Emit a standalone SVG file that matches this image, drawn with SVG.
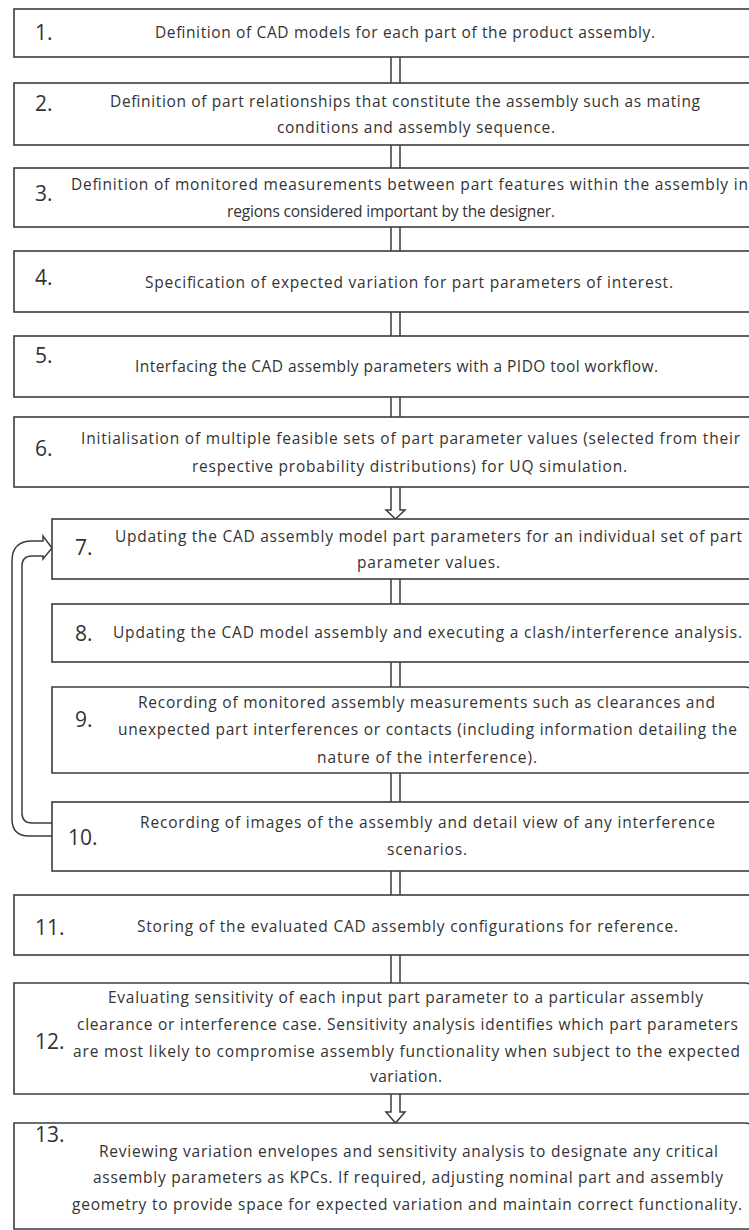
<svg xmlns="http://www.w3.org/2000/svg" width="749" height="1230" viewBox="0 0 749 1230">
<style>
.box{fill:#fff;stroke:#3c3c3c;stroke-width:1.6}
.t{font-family:"Open Sans","Liberation Sans",sans-serif;font-size:15.5px;fill:#333}
.n{font-family:"Open Sans","Liberation Sans",sans-serif;font-size:21px;fill:#333}
.c{fill:none;stroke:#3c3c3c;stroke-width:1.5}
</style>
<rect width="749" height="1230" fill="#fff"/>
<g id="connectors">
<path class="c" d="M391,57V83M400,57V83"/>
<path class="c" d="M391,145V168M400,145V168"/>
<path class="c" d="M391,227V251M400,227V251"/>
<path class="c" d="M391,312V336M400,312V336"/>
<path class="c" d="M391,397V417M400,397V417"/>
<path class="c" d="M391,487V510H386L395.5,519L405,510H400V487"/>
<path class="c" d="M391,579V604M400,579V604"/>
<path class="c" d="M391,662V687M400,662V687"/>
<path class="c" d="M391,773V802M400,773V802"/>
<path class="c" d="M391,871V895M400,871V895"/>
<path class="c" d="M391,955V983M400,955V983"/>
<path class="c" d="M391,1094V1112H386L395.5,1123L405,1112H400V1094"/>
<path class="c" d="M52,836H29Q12,836 12,819V561Q12,541 32,541H43V536L52,548L43,559V556H32Q22,556 22,566V813Q22,823 32,823H52"/>
</g>
<g id="n1"><rect class="box" x="14" y="9" width="800" height="48"/><text class="n" x="35" y="40">1.</text><text class="t" x="155" y="38" textLength="500">Definition of CAD models for each part of the product assembly.</text></g>
<g id="n2"><rect class="box" x="14" y="83" width="800" height="62"/><text class="n" x="35" y="111">2.</text><text class="t" x="110" y="107" textLength="590">Definition of part relationships that constitute the assembly such as mating</text><text class="t" x="277" y="133" textLength="278">conditions and assembly sequence.</text></g>
<g id="n3"><rect class="box" x="14" y="168" width="800" height="59"/><text class="n" x="35" y="201">3.</text><text class="t" x="71" y="190" textLength="677">Definition of monitored measurements between part features within the assembly in</text><text class="t" x="227" y="217" textLength="328">regions considered important by the designer.</text></g>
<g id="n4"><rect class="box" x="14" y="251" width="800" height="61"/><text class="n" x="35" y="285">4.</text><text class="t" x="145" y="288" textLength="528">Specification of expected variation for part parameters of interest.</text></g>
<g id="n5"><rect class="box" x="14" y="336" width="800" height="61"/><text class="n" x="35" y="363">5.</text><text class="t" x="135" y="372" textLength="523">Interfacing the CAD assembly parameters with a PIDO tool workflow.</text></g>
<g id="n6"><rect class="box" x="14" y="417" width="800" height="70"/><text class="n" x="35" y="456">6.</text><text class="t" x="81" y="444" textLength="659">Initialisation of multiple feasible sets of part parameter values (selected from their</text><text class="t" x="192" y="472" textLength="435">respective probability distributions) for UQ simulation.</text></g>
<g id="n7"><rect class="box" x="52" y="519" width="760" height="60"/><text class="n" x="75" y="555">7.</text><text class="t" x="115" y="542" textLength="627">Updating the CAD assembly model part parameters for an individual set of part</text><text class="t" x="357" y="568" textLength="143">parameter values.</text></g>
<g id="n8"><rect class="box" x="52" y="604" width="760" height="58"/><text class="n" x="75" y="641">8.</text><text class="t" x="113" y="638" textLength="629">Updating the CAD model assembly and executing a clash/interference analysis.</text></g>
<g id="n9"><path class="box" d="M52,687H745Q754,687 754,696V773H52Z"/><text class="n" x="75" y="727">9.</text><text class="t" x="138" y="708" textLength="577">Recording of monitored assembly measurements such as clearances and</text><text class="t" x="118" y="735" textLength="619">unexpected part interferences or contacts (including information detailing the</text><text class="t" x="317" y="763" textLength="220">nature of the interference).</text></g>
<g id="n10"><rect class="box" x="52" y="802" width="760" height="69"/><text class="n" x="68" y="845">10.</text><text class="t" x="140" y="828" textLength="575">Recording of images of the assembly and detail view of any interference</text><text class="t" x="387" y="855" textLength="80">scenarios.</text></g>
<g id="n11"><rect class="box" x="14" y="895" width="800" height="60"/><text class="n" x="35" y="935">11.</text><text class="t" x="137" y="932" textLength="541">Storing of the evaluated CAD assembly configurations for reference.</text></g>
<g id="n12"><path class="box" d="M14,983H745Q754,983 754,992V1094H14Z"/><text class="n" x="35" y="1049">12.</text><text class="t" x="108" y="1003" textLength="595">Evaluating sensitivity of each input part parameter to a particular assembly</text><text class="t" x="77" y="1030" textLength="661">clearance or interference case. Sensitivity analysis identifies which part parameters</text><text class="t" x="73" y="1057" textLength="667">are most likely to compromise assembly functionality when subject to the expected</text><text class="t" x="370" y="1082" textLength="72">variation.</text></g>
<g id="n13"><path class="box" d="M14,1123H745Q754,1123 754,1132V1229H14Z"/><text class="n" x="35" y="1142">13.</text><text class="t" x="99" y="1157" textLength="619">Reviewing variation envelopes and sensitivity analysis to designate any critical</text><text class="t" x="93" y="1183" textLength="630">assembly parameters as KPCs. If required, adjusting nominal part and assembly</text><text class="t" x="72" y="1210" textLength="670">geometry to provide space for expected variation and maintain correct functionality.</text></g>
</svg>
